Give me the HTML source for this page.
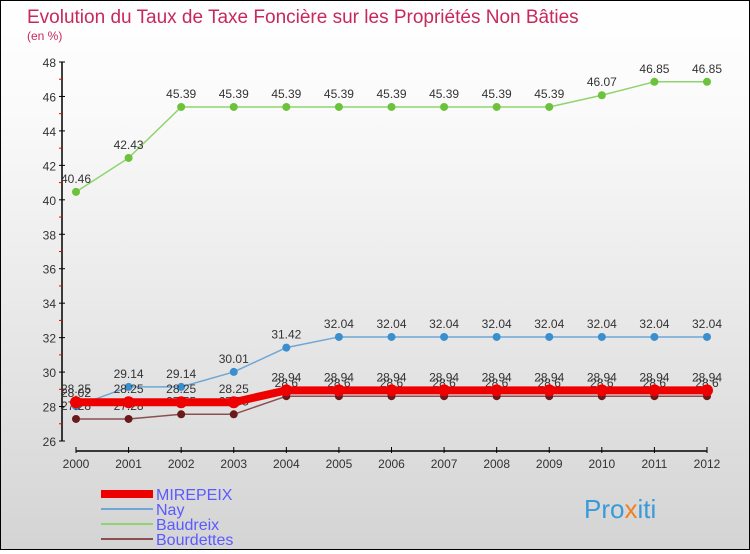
<!DOCTYPE html>
<html><head><meta charset="utf-8"><style>
body{margin:0;width:750px;height:550px;overflow:hidden;font-family:"Liberation Sans",sans-serif}
#wrap{position:relative;width:748px;height:548px;border:1px solid #000;background:linear-gradient(#fff,#fafafa 20%,#d4d4d4)}
</style></head><body>
<div id="wrap">
<svg id="chart" width="748" height="548" xmlns="http://www.w3.org/2000/svg">
<text x="26" y="22" font-size="19" fill="#c8285a">Evolution du Taux de Taxe Foncière sur les Propriétés Non Bâties</text>
<text x="26" y="39" font-size="12" fill="#c8285a">(en %)</text>
<g id="axes"></g><g id="series"></g>
<g>
<rect x="100" y="489" width="52" height="8" fill="#e00"/>
<text x="155" y="499" font-size="16" fill="#5a5aff">MIREPEIX</text>
<line x1="100" y1="508" x2="152" y2="508" stroke="#6fa6d6" stroke-width="2"/>
<text x="155" y="514" font-size="16" fill="#5a5aff">Nay</text>
<line x1="100" y1="523" x2="152" y2="523" stroke="#8fd46e" stroke-width="2"/>
<text x="155" y="529" font-size="16" fill="#5a5aff">Baudreix</text>
<line x1="100" y1="538" x2="152" y2="538" stroke="#8a5050" stroke-width="2"/>
<text x="155" y="544" font-size="16" fill="#5a5aff">Bourdettes</text>
</g>
<text x="583" y="517" font-size="26" fill="#3a9ad9">Pro<tspan fill="#f08020">x</tspan>iti</text>
</svg></div>
<script>
const years=[2000,2001,2002,2003,2004,2005,2006,2007,2008,2009,2010,2011,2012];
const mirepeix=[28.25,28.25,28.25,28.25,28.94,28.94,28.94,28.94,28.94,28.94,28.94,28.94,28.94];
const nay=[28.02,29.14,29.14,30.01,31.42,32.04,32.04,32.04,32.04,32.04,32.04,32.04,32.04];
const baudreix=[40.46,42.43,45.39,45.39,45.39,45.39,45.39,45.39,45.39,45.39,46.07,46.85,46.85];
const bourdettes=[27.28,27.28,27.55,27.55,28.6,28.6,28.6,28.6,28.6,28.6,28.6,28.6,28.6];
const yTicks=[26,28,30,32,34,36,38,40,42,44,46,48];
const NS="http://www.w3.org/2000/svg";
const X=i=>75+i*(631/12);
const Y=v=>440-(v-26)*(379/22);
function mk(t,a,p){const e=document.createElementNS(NS,t);for(const k in a)e.setAttribute(k,a[k]);p.appendChild(e);return e;}
const ax=document.getElementById('axes'),sg=document.getElementById('series');
const yl=mk('line',{x1:61,y1:Y(48),x2:61,y2:Y(26),stroke:'#000','stroke-width':1.5},ax);


yTicks.forEach(v=>{
 mk('line',{x1:58,y1:Y(v),x2:64,y2:Y(v),stroke:'#000'},ax);
 mk('line',{x1:58,y1:Y(v+1),x2:61,y2:Y(v+1),stroke:v<48?'#e00':'none'},ax);
 const t=mk('text',{x:55,y:Y(v)+5,'font-size':12,fill:'#333','text-anchor':'end'},ax);t.textContent=v;
 
 
});
const xl=mk('line',{x1:X(0),y1:450,x2:X(12),y2:450,stroke:'#000','stroke-width':1.5},ax);


years.forEach((y,i)=>{
 mk('line',{x1:X(i),y1:446,x2:X(i),y2:452,stroke:'#000'},ax);
 const t=mk('text',{x:X(i),y:467,'font-size':12,fill:'#333','text-anchor':'middle'},ax);t.textContent=y;
 
 
});
function series(name,vals,color,w,r,dot,labelOff){
 const g=mk('g',{},sg);
 
 
 mk('polyline',{points:vals.map((v,i)=>X(i)+','+Y(v)).join(' '),fill:'none',stroke:color,'stroke-width':w},g);
 vals.forEach((v,i)=>{
  const c=mk('circle',{cx:X(i),cy:Y(v),r:r,fill:dot},g);
  
  
  const t=mk('text',{x:X(i),y:Y(v)+labelOff,'font-size':12,fill:'#333','text-anchor':'middle'},g);t.textContent=v;
 });
}
series('baudreix',baudreix,'#8fd46e',1.5,4,'#6cc23a',-9);
series('nay',nay,'#6fa6d6',1.5,4,'#3a8fcf',-9);
series('bourdettes',bourdettes,'#8a5050',1.5,4,'#6a1a1a',-9);
series('mirepeix',mirepeix,'#e00',8,6,'#e00',-9);
</script>
</body></html>
